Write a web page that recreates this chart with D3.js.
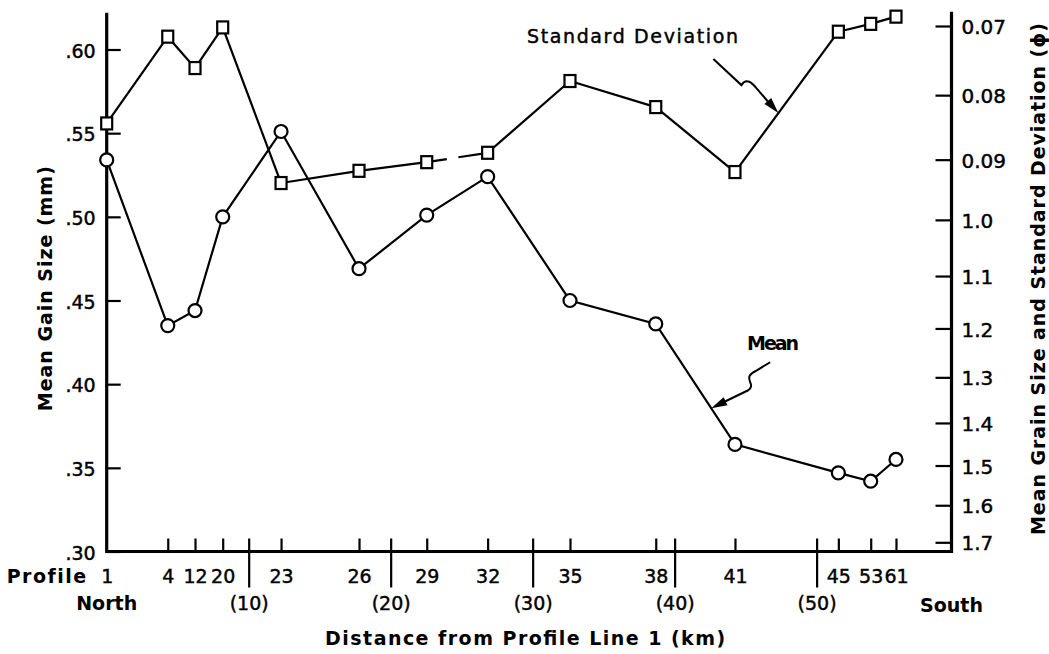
<!DOCTYPE html>
<html>
<head>
<meta charset="utf-8">
<script src="https://cdn.jsdelivr.net/npm/d3@7"></script>
<style>
  html, body { margin: 0; padding: 0; background: #fff; }
  svg text { font-family: "DejaVu Sans", "Liberation Sans", sans-serif; fill: #000; }
  svg text.medium { stroke: #000; stroke-width: 0.45px; }
</style>
</head>
<body>
<svg id="chart" width="1049" height="654"></svg>
<script>
// Beach profile stations, north to south
const profiles = ["1", "4", "12", "20", "23", "26", "29", "32", "35", "38", "41", "45", "53", "61"];
// Distance of each profile from Profile Line 1 (km)
const distanceKm = [0, 4.30, 6.22, 8.17, 12.28, 17.77, 22.54, 26.83, 32.63, 38.67, 44.25, 51.53, 53.81, 55.59];
// Mean grain size (mm)
const meanMm = [0.534, 0.435, 0.444, 0.500, 0.551, 0.469, 0.501, 0.524, 0.450, 0.436, 0.364, 0.347, 0.342, 0.355];
// Standard deviation (phi units)
const stdPhi = [0.843, 0.715, 0.760, 0.702, 0.938, 0.918, 0.904, 0.889, 0.779, 0.818, 0.920, 0.708, 0.697, 0.687];

// Left axis (mm)
const mmTicks = [0.30, 0.35, 0.40, 0.45, 0.50, 0.55, 0.60];
const mmTickLabels = [".30", ".35", ".40", ".45", ".50", ".55", ".60"];
// Right axis (phi)
const phiTicks = [0.7, 0.8, 0.9, 1.0, 1.1, 1.2, 1.3, 1.4, 1.5, 1.6, 1.7];
const phiTickLabels = ["0.07", "0.08", "0.09", "1.0", "1.1", "1.2", "1.3", "1.4", "1.5", "1.6", "1.7"];
// Distance ticks (km)
const kmTicks = [10, 20, 30, 40, 50];
const kmTickLabels = ["(10)", "(20)", "(30)", "(40)", "(50)"];

const svg = d3.select("#chart");

const x = d3.scaleLinear().domain([0, 59.5]).range([106.7, 951.5]);
const yMm = d3.scaleLinear().domain([0.30, 0.60]).range([551.5, 49.5]);
const mmTop = 0.622;

// phi = -log2(d mm): the right axis is linear in 2^-phi
const phiLin = d3.scaleLinear()
  .domain([Math.pow(2, -1.7), Math.pow(2, -0.7)])
  .range([542.3, 26]);
function yPhi(v) { return phiLin(Math.pow(2, -v)); }
yPhi.copy = () => yPhi;
yPhi.range = () => [yPhi(1.7), yPhi(0.7)];

const x0 = x.range()[0], x1 = x.range()[1];
const yBase = yMm(0.30), yTop = yMm(mmTop);

function styleAxis(g, size, weight) {
  g.attr("font-family", null).attr("font-size", null);
  g.select(".domain").remove();
  g.selectAll(".tick line").attr("stroke", "#000").attr("stroke-width", 2.2);
  g.selectAll(".tick text").attr("font-size", size).attr("font-weight", weight || "normal")
    .attr("fill", "#000").attr("class", "medium");
}

// Left axis: mean grain size (mm), ticks pointing inward
const gL = svg.append("g").attr("transform", `translate(${x0},0)`)
  .call(d3.axisLeft(yMm).tickValues(mmTicks).tickFormat((d, i) => mmTickLabels[i])
    .tickSizeInner(-14).tickSizeOuter(0).tickPadding(11));
styleAxis(gL, 19);
gL.selectAll(".tick text").attr("dy", "0.4em");

// Right axis: phi
const gR = svg.append("g").attr("transform", `translate(${x1},0)`)
  .call(d3.axisRight(yPhi).tickValues(phiTicks).tickFormat((d, i) => phiTickLabels[i])
    .tickSizeInner(-16).tickSizeOuter(0).tickPadding(10));
styleAxis(gR, 20);
gR.selectAll(".tick text").attr("dy", "0.38em");

// Bottom: profile stations (short ticks above the baseline)
const gP = svg.append("g").attr("transform", `translate(0,${yBase})`)
  .call(d3.axisBottom(x).tickValues(distanceKm).tickFormat((d, i) => profiles[i])
    .tickSizeInner(-13).tickSizeOuter(0).tickPadding(18));
styleAxis(gP, 19);
gP.selectAll(".tick").filter((d, i) => i === 0).select("line").remove();

// Bottom: distance in km (long ticks crossing the baseline)
const gK = svg.append("g").attr("transform", `translate(0,${yBase})`)
  .call(d3.axisBottom(x).tickValues(kmTicks).tickFormat((d, i) => kmTickLabels[i])
    .tickSizeInner(36).tickSizeOuter(0).tickPadding(9));
styleAxis(gK, 19);
gK.selectAll(".tick line").attr("y1", -13);

// Frame
svg.append("path")
  .attr("d", `M${x0},${yTop}V${yBase}H${x1}V${yTop - 1}`)
  .attr("fill", "none").attr("stroke", "#000").attr("stroke-width", 3.2)
  .attr("stroke-linejoin", "miter");

// Extra axis text
svg.append("text").attr("x", x0 - 19).attr("y", yBase + 31.5)
  .attr("text-anchor", "end").attr("font-size", 19).attr("font-weight", "bold")
  .attr("letter-spacing", 1.5).text("Profile");
svg.append("text").attr("x", x0).attr("y", yBase + 58.5)
  .attr("text-anchor", "middle").attr("font-size", 19).attr("font-weight", "bold")
  .text("North");
svg.append("text").attr("x", x1).attr("y", yBase + 60.5)
  .attr("text-anchor", "middle").attr("font-size", 19).attr("font-weight", "bold")
  .text("South");

// Axis titles
svg.append("text").attr("x", (x0 + x1) / 2 - 4).attr("y", 645)
  .attr("text-anchor", "middle").attr("font-size", 19).attr("font-weight", "bold")
  .attr("textLength", 400).attr("lengthAdjust", "spacing")
  .text("Distance from Profile Line 1 (km)");
svg.append("text")
  .attr("transform", `translate(52,${(yMm(0.4) + yMm(0.55)) / 2 + 30}) rotate(-90)`)
  .attr("text-anchor", "middle").attr("font-size", 19).attr("font-weight", "bold")
  .attr("textLength", 245).attr("lengthAdjust", "spacing")
  .text("Mean Gain Size (mm)");
svg.append("text")
  .attr("transform", `translate(1045,279) rotate(-90)`)
  .attr("text-anchor", "middle").attr("font-size", 19).attr("font-weight", "bold")
  .attr("textLength", 512).attr("lengthAdjust", "spacing")
  .text("Mean Grain Size and Standard Deviation (\u03D5)");

// Series lines
const meanPts = distanceKm.map((d, i) => [x(d), yMm(meanMm[i])]);
const stdPts = distanceKm.map((d, i) => [x(d), yPhi(stdPhi[i])]);

svg.append("path")
  .attr("d", d3.line()(meanPts))
  .attr("fill", "none").attr("stroke", "#000").attr("stroke-width", 2.2);

// Standard deviation line, with its break between profiles 29 and 32
const stdSegs = d3.pairs(stdPts);
svg.selectAll("line.std").data(stdSegs).join("line").attr("class", "std")
  .attr("x1", d => d[0][0]).attr("y1", d => d[0][1])
  .attr("x2", d => d[1][0]).attr("y2", d => d[1][1])
  .attr("stroke", "#000").attr("stroke-width", 2.2)
  .attr("stroke-dasharray", (d, i) => {
    if (profiles[i] !== "29") return null;
    const L = Math.hypot(d[1][0] - d[0][0], d[1][1] - d[0][1]);
    return `${0.33 * L} ${0.19 * L} ${0.48 * L}`;
  });

// Markers
svg.selectAll("circle.mean").data(meanPts).join("circle").attr("class", "mean")
  .attr("cx", d => d[0]).attr("cy", d => d[1]).attr("r", 6.5)
  .attr("fill", "#fff").attr("stroke", "#000").attr("stroke-width", 2.2);
svg.selectAll("rect.std").data(stdPts).join("rect").attr("class", "std")
  .attr("x", d => d[0] - 5.5).attr("y", d => d[1] - 6).attr("width", 11).attr("height", 12)
  .attr("fill", "#fff").attr("stroke", "#000").attr("stroke-width", 2.2);

// Series annotations
function along(pts, i, t) {
  return [pts[i][0] + t * (pts[i + 1][0] - pts[i][0]), pts[i][1] + t * (pts[i + 1][1] - pts[i][1])];
}
function arrowHead(tip, from, len, half) {
  const a = Math.atan2(tip[1] - from[1], tip[0] - from[0]);
  const bx = tip[0] - len * Math.cos(a), by = tip[1] - len * Math.sin(a);
  const px = -Math.sin(a) * half, py = Math.cos(a) * half;
  return `M${tip[0]},${tip[1]}L${bx + px},${by + py}L${bx - px},${by - py}Z`;
}

svg.append("text").attr("x", x(29.6)).attr("y", yMm(0.6039)).attr("class", "medium")
  .attr("font-size", 19).attr("textLength", 211).attr("lengthAdjust", "spacing")
  .text("Standard Deviation");
const sdTip = along(stdPts, 10, 0.42);
const sdTail = [[-65, -54], [-37, -28]].map(o => [sdTip[0] + o[0], sdTip[1] + o[1]]);
svg.append("path")
  .attr("d", `M${sdTail[0]}L${sdTail[1]}C${sdTip[0] - 32},${sdTip[1] - 36} ${sdTip[0] - 26},${sdTip[1] - 30} ${sdTip[0] - 22},${sdTip[1] - 25}L${sdTip[0] - 4},${sdTip[1] - 4}`)
  .attr("fill", "none").attr("stroke", "#000").attr("stroke-width", 2);
svg.append("path").attr("d", arrowHead(sdTip, [sdTip[0] - 22, sdTip[1] - 25], 16, 4.5)).attr("fill", "#000");

svg.append("text").attr("x", x(45.1)).attr("y", yMm(0.4204))
  .attr("font-size", 19).attr("font-weight", "bold").attr("textLength", 52).attr("lengthAdjust", "spacing")
  .text("Mean");
const mTip = along(meanPts, 9, 0.7);
svg.append("path")
  .attr("d", `M${mTip[0] + 59},${mTip[1] - 46}L${mTip[0] + 44},${mTip[1] - 37}C${mTip[0] + 30},${mTip[1] - 30} ${mTip[0] + 46},${mTip[1] - 24} ${mTip[0] + 37},${mTip[1] - 18}L${mTip[0] + 4},${mTip[1] - 2}`)
  .attr("fill", "none").attr("stroke", "#000").attr("stroke-width", 2);
svg.append("path").attr("d", arrowHead(mTip, [mTip[0] + 37, mTip[1] - 18], 16, 4.5)).attr("fill", "#000");
</script>
</body>
</html>
